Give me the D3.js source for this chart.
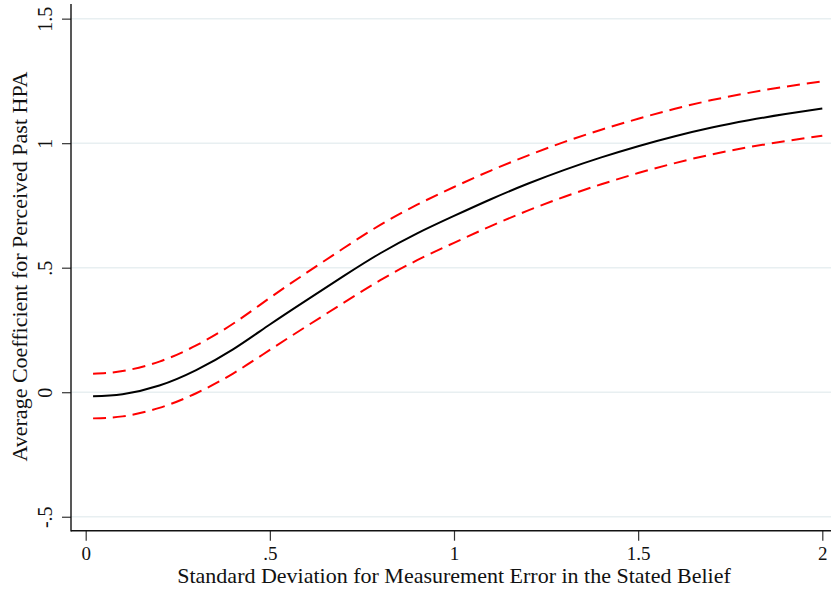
<!DOCTYPE html>
<html><head><meta charset="utf-8">
<script src="https://cdn.jsdelivr.net/npm/d3@7"></script>
<style>body{margin:0;background:#fff}svg{display:block}</style>
</head><body>
<svg id="c" width="831" height="593"></svg>
<script>
const xs = [0.02,0.1,0.2,0.3,0.4,0.5,0.6,0.7,0.8,0.9,1.0,1.1,1.2,1.3,1.4,1.5,1.6,1.7,1.8,1.9,2.0];
const est = [-0.016,-0.008,0.027,0.089,0.172,0.272,0.370,0.466,0.558,0.638,0.708,0.775,0.837,0.893,0.943,0.988,1.028,1.063,1.092,1.117,1.139];
const upper = [0.074,0.085,0.123,0.188,0.275,0.379,0.480,0.578,0.672,0.753,0.824,0.890,0.950,1.005,1.054,1.098,1.138,1.173,1.202,1.227,1.248];
const lower = [-0.105,-0.097,-0.063,-0.004,0.075,0.170,0.265,0.359,0.450,0.530,0.600,0.667,0.729,0.785,0.835,0.880,0.920,0.955,0.984,1.008,1.030];
const xTicks = [0,0.5,1,1.5,2];
const xTickLabels = ["0",".5","1","1.5","2"];
const yTicks = [-0.5,0,0.5,1,1.5];
const yTickLabels = ["-.5","0",".5","1","1.5"];
const xTitle = "Standard Deviation for Measurement Error in the Stated Belief";
const yTitle = "Average Coefficient for Perceived Past HPA";

const svg = d3.select("#c");
const font = "'Liberation Serif','Times New Roman',serif";
const x = d3.scaleLinear().domain([0,2]).range([85.7,822.3]);
const y = d3.scaleLinear().domain([-0.5,1.5]).range([516.75,18.65]);
const axX = 71, axY = 530.7;

// gridlines
svg.append("g").selectAll("line").data(yTicks).join("line")
  .attr("x1",axX).attr("x2",831).attr("y1",d=>y(d)).attr("y2",d=>y(d))
  .attr("stroke","#e8eff1").attr("stroke-width",1.5);

// y axis
const yAxis = d3.axisLeft(y).tickValues(yTicks).tickSize(9).tickFormat((d,i)=>yTickLabels[i]);
const gy = svg.append("g").attr("transform",`translate(${axX},0)`).call(yAxis);
gy.select(".domain").remove();
gy.selectAll(".tick line").attr("stroke","#333").attr("stroke-width",1.2);
gy.selectAll(".tick text").attr("font-family",font).attr("font-size",20).attr("fill","#111")
  .attr("text-anchor","middle").attr("x",0).attr("y",0).attr("dy",0)
  .attr("transform","translate(-19,0) rotate(-90)");
svg.append("line").attr("x1",axX).attr("x2",axX).attr("y1",4).attr("y2",axY+0.7).attr("stroke","#111").attr("stroke-width",1.4);

// x axis
const xAxis = d3.axisBottom(x).tickValues(xTicks).tickSize(10).tickFormat((d,i)=>xTickLabels[i]);
const gx = svg.append("g").attr("transform",`translate(0,${axY})`).call(xAxis);
gx.select(".domain").remove();
gx.selectAll(".tick line").attr("stroke","#333").attr("stroke-width",1.2);
gx.selectAll(".tick text").attr("font-family",font).attr("font-size",19).attr("fill","#111").attr("y",29.5).attr("dy",0);
svg.append("line").attr("x1",axX).attr("x2",831).attr("y1",axY).attr("y2",axY).attr("stroke","#111").attr("stroke-width",1.4);

// titles
svg.append("text").attr("x",454).attr("y",582.5).attr("text-anchor","middle")
  .attr("font-family",font).attr("font-size",22).attr("fill","#111").text(xTitle);
svg.append("text").attr("transform","translate(27,266.5) rotate(-90)").attr("text-anchor","middle")
  .attr("font-family",font).attr("font-size",22).attr("fill","#111").text(yTitle);

// lines
const line = arr => d3.line().x((d,i)=>x(xs[i])).y((d,i)=>y(arr[i])).curve(d3.curveNatural)(arr);
svg.append("path").attr("d",line(upper)).attr("fill","none").attr("stroke","#ff0000").attr("stroke-width",2).attr("stroke-dasharray","13,7");
svg.append("path").attr("d",line(lower)).attr("fill","none").attr("stroke","#ff0000").attr("stroke-width",2).attr("stroke-dasharray","13,7");
svg.append("path").attr("d",line(est)).attr("fill","none").attr("stroke","#000").attr("stroke-width",2);
</script>
</body></html>
